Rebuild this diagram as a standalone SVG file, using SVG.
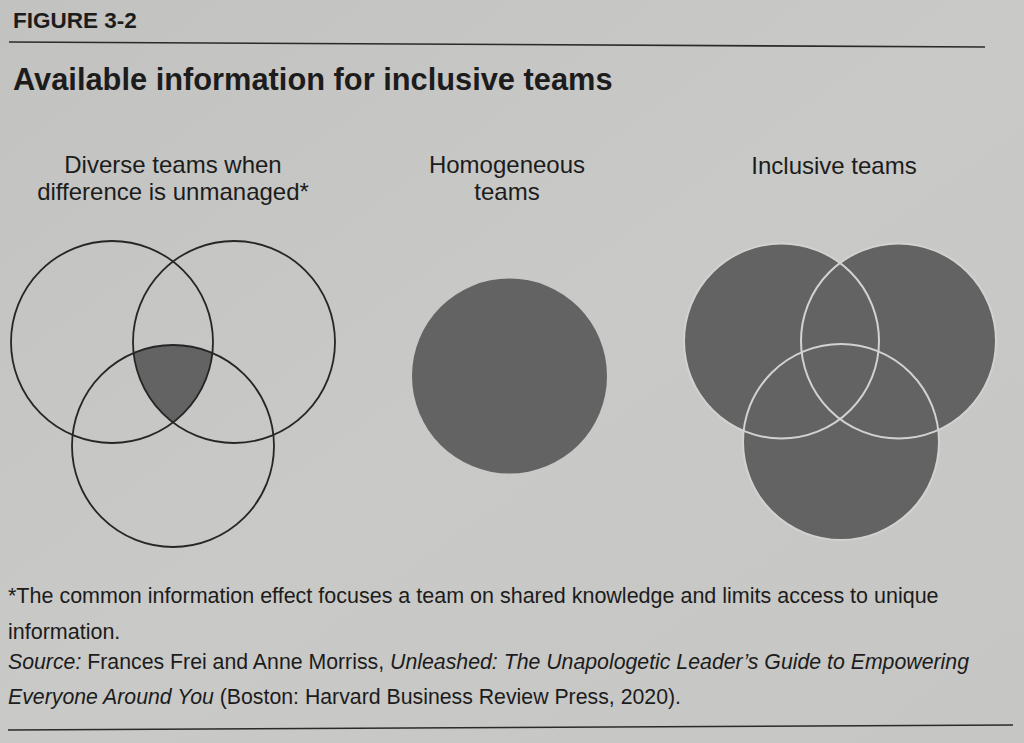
<svg xmlns="http://www.w3.org/2000/svg" width="1024" height="743" viewBox="0 0 1024 743">
<style>
  text { font-family: "Liberation Sans", Arial, sans-serif; fill: #1c1c1c; }
  .hdr { font-size: 22.5px; font-weight: bold; }
  .ttl { font-size: 30.8px; font-weight: bold; }
  .lbl { font-size: 24px; text-anchor: middle; }
  .note { font-size: 21.5px; }
  .it { font-style: italic; }
  .rule { stroke: #2a2a2a; stroke-width: 1.6; fill: none; }
  .outline { fill: none; stroke: #262626; stroke-width: 1.8; }
  .dark { fill: #646363; }
  .light { fill: none; stroke: #d2d2d0; stroke-width: 2; }
</style>
<defs>
  <linearGradient id="paper" x1="0" y1="0" x2="1" y2="1">
    <stop offset="0" stop-color="#c2c2c0"/>
    <stop offset="0.5" stop-color="#c9c9c7"/>
    <stop offset="1" stop-color="#c6c6c4"/>
  </linearGradient>
  <clipPath id="clipB"><circle cx="234" cy="342" r="101"/></clipPath>
  <clipPath id="clipC"><circle cx="173" cy="446" r="101"/></clipPath>
</defs>
<rect x="0" y="0" width="1024" height="743" fill="url(#paper)"/>

<g id="header">
  <text class="hdr" x="13" y="28">FIGURE 3-2</text>
  <line class="rule" x1="9" y1="42" x2="985" y2="47"/>
  <text class="ttl" x="13" y="90">Available information for inclusive teams</text>
</g>

<g id="diverse-teams">
  <text class="lbl" x="173" y="173">Diverse teams when</text>
  <text class="lbl" x="173" y="200">difference is unmanaged*</text>
  <g clip-path="url(#clipB)">
    <circle class="dark" cx="112" cy="342" r="101" clip-path="url(#clipC)" fill="#686666"/>
  </g>
  <circle class="outline" cx="112" cy="342" r="101"/>
  <circle class="outline" cx="234" cy="342" r="101"/>
  <circle class="outline" cx="173" cy="446" r="101"/>
</g>

<g id="homogeneous-teams">
  <text class="lbl" x="507" y="173">Homogeneous</text>
  <text class="lbl" x="507" y="200">teams</text>
  <circle class="dark" cx="509.5" cy="376" r="97.5"/>
</g>

<g id="inclusive-teams">
  <text class="lbl" x="834" y="174">Inclusive teams</text>
  <circle class="dark" cx="781.5" cy="341" r="97.5"/>
  <circle class="dark" cx="898.5" cy="341" r="97.5"/>
  <circle class="dark" cx="841" cy="442" r="98"/>
  <circle class="light" cx="781.5" cy="341" r="97.5"/>
  <circle class="light" cx="898.5" cy="341" r="97.5"/>
  <circle class="light" cx="841" cy="442" r="98"/>
</g>

<g id="connectors"/>

<g id="footnote">
  <text class="note" x="8" y="603">*The common information effect focuses a team on shared knowledge and limits access to unique</text>
  <text class="note" x="8" y="639">information.</text>
  <text class="note" x="8" y="669" textLength="961" lengthAdjust="spacingAndGlyphs"><tspan class="it">Source:</tspan> Frances Frei and Anne Morriss, <tspan class="it">Unleashed: The Unapologetic Leader’s Guide to Empowering</tspan></text>
  <text class="note" x="8" y="704" textLength="673" lengthAdjust="spacingAndGlyphs"><tspan class="it">Everyone Around You</tspan> (Boston: Harvard Business Review Press, 2020).</text>
  <line class="rule" x1="8" y1="730" x2="1013" y2="725"/>
</g>
</svg>
